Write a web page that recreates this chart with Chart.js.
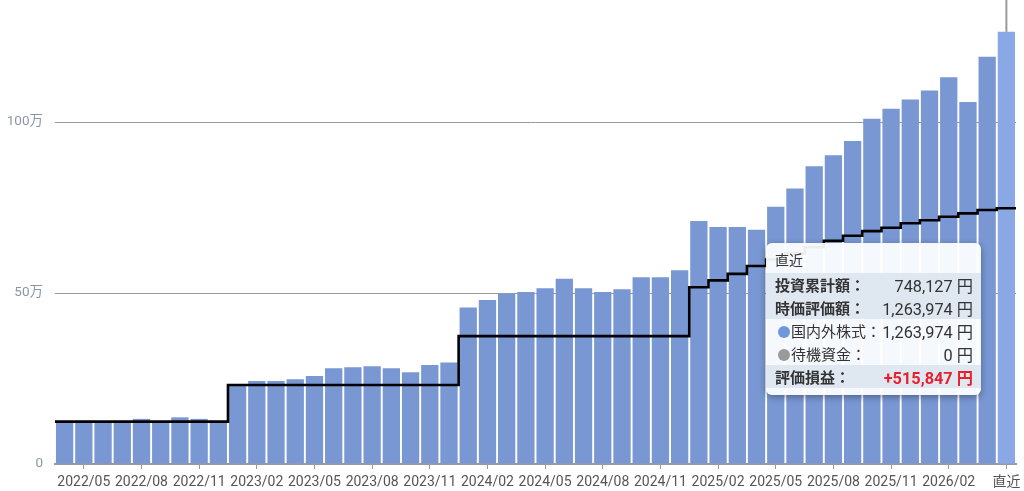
<!DOCTYPE html>
<html><head><meta charset="utf-8">
<script src="https://cdn.jsdelivr.net/npm/chart.js@4/dist/chart.umd.min.js"></script>
<style>
html,body{margin:0;padding:0;background:#fff;}
#wrap{position:relative;width:1024px;height:491px;}
#tip{position:absolute;left:766px;top:243px;width:215px;background:rgba(255,255,255,0.93);border-radius:6px;box-shadow:0 2px 7px rgba(0,0,0,0.35);font-family:Roboto,"Noto Sans CJK JP",sans-serif;color:#333;padding:6px 0 7px 0;box-sizing:border-box;}
#tip .t{font-size:14px;padding:2px 9px 3px 9px;height:19px;line-height:19px;}
#tip .r{display:flex;justify-content:space-between;align-items:center;height:23px;font-size:15px;padding:0 8px 0 9px;white-space:nowrap;}
#tip .v{font-size:16.3px;}
#tip .s{background:rgba(222,230,240,0.95);}
#tip .b .l{font-weight:bold;}
#tip .i{padding-left:12px;}
#tip .dot{display:inline-block;width:12px;height:12px;border-radius:50%;margin-right:1px;vertical-align:-1px;}
#tip .red{color:#e8202e;font-weight:bold;}
</style></head>
<body><div id="wrap"><canvas id="c" width="1024" height="491"></canvas><div id="tip"></div></div>
<script>
const categories = ["2022/04","2022/05","2022/06","2022/07","2022/08","2022/09","2022/10","2022/11","2022/12",
"2023/01","2023/02","2023/03","2023/04","2023/05","2023/06","2023/07","2023/08","2023/09","2023/10","2023/11","2023/12",
"2024/01","2024/02","2024/03","2024/04","2024/05","2024/06","2024/07","2024/08","2024/09","2024/10","2024/11","2024/12",
"2025/01","2025/02","2025/03","2025/04","2025/05","2025/06","2025/07","2025/08","2025/09","2025/10","2025/11","2025/12",
"2026/01","2026/02","2026/03","2026/04","直近"];
const marketValue = [126000,126000,124000,126000,132000,123000,136500,132000,123000,
231000,243000,243000,248000,257000,280000,283000,286000,280000,268000,289500,297000,
458000,479500,499000,503000,514000,542000,514000,503000,511000,546000,546000,567000,
710500,693000,693000,685000,752000,806000,871000,903000,945000,1010000,1039000,1066000,
1092000,1131000,1059000,1191000,1263974];
const invested = [124000,124000,124000,124000,124000,124000,124000,124000,124000,
231000,231000,231000,231000,231000,231000,231000,231000,231000,231000,231000,231000,
374000,374000,374000,374000,374000,374000,374000,374000,374000,374000,374000,374000,
517000,537000,556000,579000,598000,616000,634000,653000,667500,681000,691000,704000,
713000,723000,733000,743000,748127];
const xTickLabels = ["2022/05","2022/08","2022/11","2023/02","2023/05","2023/08","2023/11","2024/02","2024/05","2024/08","2024/11","2025/02","2025/05","2025/08","2025/11","2026/02","直近"];
const yTicks = [0, 500000, 1000000];
const tipTitle = "直近";
const tipRows = [
  {label:"投資累計額：", value:"748,127 円", cls:"s b"},
  {label:"時価評価額：", value:"1,263,974 円", cls:"s b"},
  {label:"国内外株式：", value:"1,263,974 円", cls:"i", dot:"#6f97dc"},
  {label:"待機資金：", value:"0 円", cls:"i", dot:"#9a9a9a"},
  {label:"評価損益：", value:"+515,847 円", cls:"s b", red:true}
];

const FONT = 'Roboto, "Noto Sans CJK JP", sans-serif';
const last = categories.length - 1;
const barColors = categories.map((c,i)=> i===last ? 'rgb(138,168,229)' : 'rgb(120,151,211)');
const barPts = marketValue.map((v,i)=>({x:i, y:v}));
const linePts = [{x:-0.5, y:invested[0]}].concat(invested.map((v,i)=>({x:i+0.5, y:v})));
const xTickIdx = xTickLabels.map(l=>categories.indexOf(l));

const crosshair = {
  id:'crosshair',
  afterDatasetsDraw(chart){
    const el = chart.getDatasetMeta(1).data[last];
    const ctx = chart.ctx;
    ctx.save();
    ctx.strokeStyle = '#9a9a9a';
    ctx.lineWidth = 2;
    ctx.beginPath();
    ctx.moveTo(el.x, chart.chartArea.top);
    ctx.lineTo(el.x, el.y);
    ctx.stroke();
    ctx.restore();
  }
};

new Chart(document.getElementById('c'), {
  data:{
    datasets:[
      {type:'line', data: linePts, borderColor:'#000', borderWidth:2.6, pointRadius:0, stepped:'after', fill:false, order:0},
      {type:'bar', data: barPts, backgroundColor: barColors, barPercentage:0.9, categoryPercentage:1, order:1}
    ]
  },
  options:{
    responsive:false, animation:false,
    layout:{padding:{top:0,right:8,left:0,bottom:0}},
    plugins:{legend:{display:false}, tooltip:{enabled:false}},
    scales:{
      x:{
        type:'linear', offset:false, min:-0.5, max:categories.length-0.5,
        afterBuildTicks:(s)=>{ s.ticks = xTickIdx.map(v=>({value:v})); },
        afterFit:(s)=>{ s.height = 27; s.paddingLeft = 0; s.paddingRight = 0; },
        grid:{drawOnChartArea:false, drawTicks:true, tickLength:5, color:'#999', offset:false},
        border:{display:true, color:'#9a9a9a', width:2},
        ticks:{autoSkip:false, maxRotation:0, padding:5, color:'#555', font:{family:FONT, size:14},
          callback:(v)=> categories[v]}
      },
      y:{
        min:0, max:1357000,
        afterBuildTicks:(s)=>{ s.ticks = yTicks.map(v=>({value:v})); },
        afterFit:(s)=>{ s.width = 55; s.paddingTop = 0; s.paddingBottom = 0; },
        grid:{color:'#9a9a9a', lineWidth:1, drawTicks:false},
        border:{display:false},
        ticks:{padding:12, color:'#8a96a8', font:{family:FONT, size:13.5},
          callback:(v)=> v===0 ? '0' : (v/10000)+'万'}
      }
    }
  },
  plugins:[crosshair]
});

const tip = document.getElementById('tip');
let html = '<div class="t">'+tipTitle+'</div>';
tipRows.forEach(r=>{
  html += '<div class="r '+r.cls+'"><span class="l">'+(r.dot?'<span class="dot" style="background:'+r.dot+'"></span>':'')+r.label+'</span><span class="v'+(r.red?' red':'')+'">'+r.value+'</span></div>';
});
tip.innerHTML = html;
</script></body></html>
